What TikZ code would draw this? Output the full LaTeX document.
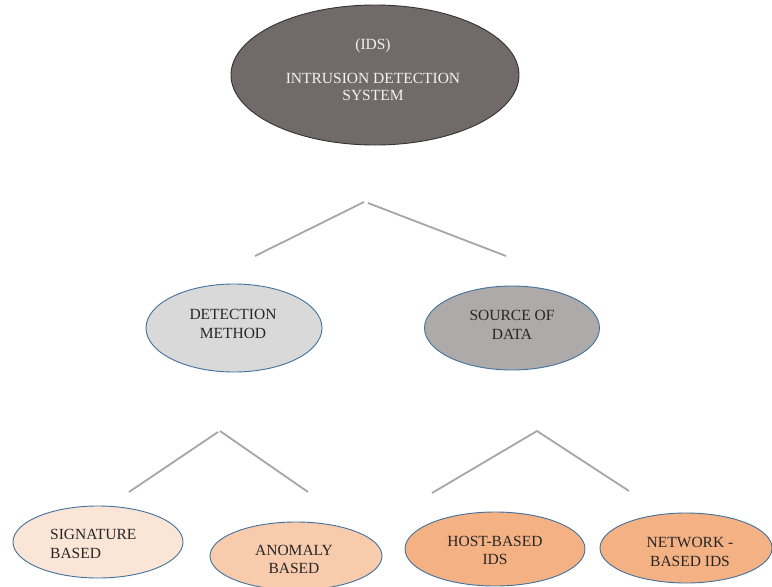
\documentclass[tikz,border=0pt]{standalone}
\usepackage{fontspec}
\setmainfont{Liberation Serif}
\usetikzlibrary{shapes.geometric}
\definecolor{topfill}{HTML}{706B69}
\definecolor{midA}{HTML}{D9D9D9}
\definecolor{midB}{HTML}{AEAAAA}
\definecolor{sigfill}{HTML}{FBE5D6}
\definecolor{anofill}{HTML}{F8CBAD}
\definecolor{hostfill}{HTML}{F4B183}
\definecolor{edgeblue}{HTML}{41719C}
\definecolor{linegray}{HTML}{A6A6A6}
\definecolor{txt}{HTML}{262626}
\definecolor{toptxt}{HTML}{F2F2F2}
\tikzset{
  oval/.style={ellipse, draw=edgeblue, line width=0.9pt, inner sep=0pt},
  lbl/.style={font=\fontsize{15.5}{19}\selectfont, text=txt, align=center, inner sep=0pt},
  conn/.style={draw=linegray, line width=1.8pt},
}
\begin{document}
\begin{tikzpicture}[x=1pt,y=-1pt]
\useasboundingbox (0,0) rectangle (772,587);
% ellipses
\node[oval, draw=black!80, fill=topfill, minimum width=288pt, minimum height=140pt] (ids) at (375,75) {};
\node[oval, fill=midA, minimum width=176pt, minimum height=88pt] (dm) at (234,328) {};
\node[oval, fill=midB, minimum width=175pt, minimum height=84pt] (sd) at (512,328) {};
\node[oval, fill=sigfill, minimum width=170pt, minimum height=72pt] (sig) at (98,542) {};
\node[oval, fill=anofill, minimum width=172pt, minimum height=68pt] (ano) at (296,556) {};
\node[oval, fill=hostfill, minimum width=180pt, minimum height=74pt] (host) at (495,549) {};
\node[oval, fill=hostfill, minimum width=172pt, minimum height=70pt] (net) at (686,548) {};
% labels
\node[lbl, text=toptxt, anchor=base] (idsA) at (373,49) {(IDS)};
\node[lbl, font=\fontsize{15.5}{17}\selectfont, text=toptxt, anchor=base] (idsB) at (373,100) {INTRUSION DETECTION\\SYSTEM};
\node[lbl, anchor=base] (dmt) at (233,338) {DETECTION\\METHOD};
\node[lbl, anchor=base] (sdt) at (512,339) {SOURCE OF\\DATA};
\node[lbl, align=left, anchor=base west] (sigt) at (50,558) {SIGNATURE\\BASED};
\node[lbl, font=\fontsize{15.5}{18}\selectfont, anchor=base] (anot) at (294,573) {ANOMALY\\BASED};
\node[lbl, font=\fontsize{15.5}{18}\selectfont, anchor=base] (hostt) at (495,564) {HOST-BASED\\IDS};
\node[lbl, anchor=base] (nett) at (690,566) {NETWORK -\\BASED IDS};
% connector coordinates
\coordinate (a1) at (364,202);
\coordinate (a2) at (368,203);
\coordinate (l1) at (255,256);
\coordinate (r1) at (506,256);
\coordinate (b1) at (218,432);
\coordinate (b2) at (220,431);
\coordinate (l2) at (129,492);
\coordinate (r2) at (308,492);
\coordinate (c1) at (537,431);
\coordinate (l3) at (432,493);
\coordinate (r3) at (629,491);
\draw[conn] (l1) -- (a1);
\draw[conn] (a2) -- (r1);
\draw[conn] (l2) -- (b1);
\draw[conn] (b2) -- (r2);
\draw[conn] (l3) -- (c1) -- (r3);
\end{tikzpicture}
\end{document}
